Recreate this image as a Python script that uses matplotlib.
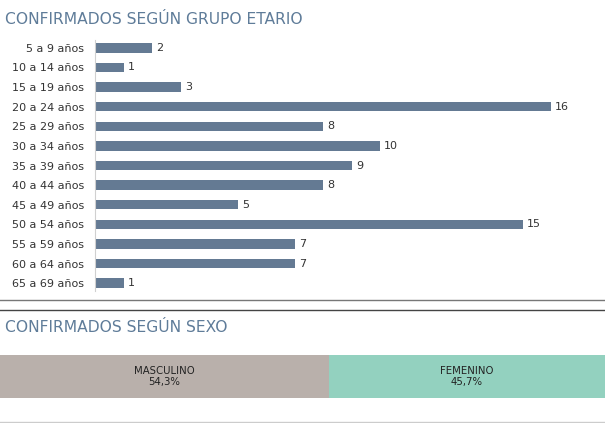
import matplotlib.pyplot as plt
from matplotlib.lines import Line2D

plt.rcParams['font.family'] = ['DejaVu Sans']

grupos = ['5 a 9 años', '10 a 14 años', '15 a 19 años', '20 a 24 años',
          '25 a 29 años', '30 a 34 años', '35 a 39 años', '40 a 44 años',
          '45 a 49 años', '50 a 54 años', '55 a 59 años', '60 a 64 años',
          '65 a 69 años']
casos = [2, 1, 3, 16, 8, 10, 9, 8, 5, 15, 7, 7, 1]

sexos = ['MASCULINO', 'FEMENINO']
porcentajes = [54.3, 45.7]
etiquetas_pct = ['54,3%', '45,7%']

W, H = 605, 423
fig = plt.figure(figsize=(W / 100, H / 100), dpi=100)
fig.patch.set_facecolor('white')

title_color = '#5f7c99'
bar_color = '#647a93'
sex_colors = ['#b9b0ab', '#93d1bf']

fig.text(5 / W, 1 - 19 / H, 'CONFIRMADOS SEGÚN GRUPO ETARIO', color=title_color,
         fontsize=11.2, va='center', ha='left')

# bar chart
ax = fig.add_axes([95 / W, 1 - 291 / H, (600 - 95) / W, (291 - 40) / H])
y = list(range(len(grupos)))
ax.barh(y, casos, height=0.48, color=bar_color)
ax.set_ylim(len(grupos) - 0.6, -0.4)
ax.set_xlim(0, (600 - 95) / 28.5)
ax.set_yticks(y)
ax.set_yticklabels(grupos, fontsize=8, color='#333333')
ax.tick_params(axis='y', length=0, pad=8)
ax.set_xticks([])
for s in ['top', 'right', 'bottom']:
    ax.spines[s].set_visible(False)
ax.spines['left'].set_color('#d0d0d0')
ax.spines['left'].set_linewidth(0.8)
for yi, v in zip(y, casos):
    ax.text(v + 0.15, yi, str(v), va='center', ha='left', fontsize=8, color='#333333')

# separator lines
fig.add_artist(Line2D([0, 1], [1 - 300 / H, 1 - 300 / H], color='#777777', lw=1.0))
fig.add_artist(Line2D([0, 1], [1 - 310 / H, 1 - 310 / H], color='#444444', lw=1.0))
fig.add_artist(Line2D([0, 1], [1 - 421.5 / H, 1 - 421.5 / H], color='#cccccc', lw=1.0))

fig.text(5 / W, 1 - 327 / H, 'CONFIRMADOS SEGÚN SEXO', color=title_color,
         fontsize=11.2, va='center', ha='left')

# sex bar
ax2 = fig.add_axes([0, 1 - 398 / H, 1, (398 - 355) / H])
left = 0
for nombre, p, lab, c in zip(sexos, porcentajes, etiquetas_pct, sex_colors):
    ax2.barh(0, p, left=left, height=1, color=c)
    ax2.text(left + p / 2, 0, nombre + '\n' + lab, ha='center', va='center',
             fontsize=7.3, color='#222222', linespacing=1.2)
    left += p
ax2.set_xlim(0, 100)
ax2.set_ylim(-0.5, 0.5)
ax2.axis('off')

fig.savefig('out.png', dpi=100)
